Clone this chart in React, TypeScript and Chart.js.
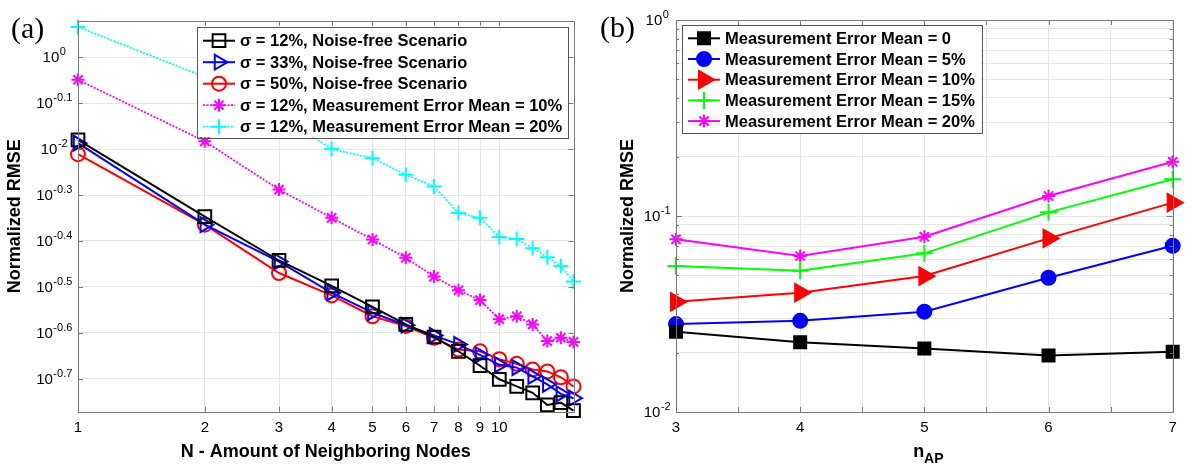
import React, { useEffect, useRef } from "react";
import { Chart, registerables } from "chart.js";
import { drawPoint } from "chart.js/helpers";

Chart.register(...registerables);

// ---------------- Panel (a) data ----------------
const neighborCounts = [1, 2, 3, 4, 5, 6, 7, 8, 9, 10, 11, 12, 13, 14, 15];
const sigma12NoiseFree = [0.661, 0.45, 0.361, 0.318, 0.286, 0.262, 0.246, 0.229, 0.213, 0.199, 0.192, 0.186, 0.175, 0.177, 0.17];
const sigma33NoiseFree = [0.65, 0.432, 0.359, 0.307, 0.278, 0.261, 0.248, 0.237, 0.225, 0.214, 0.211, 0.202, 0.194, 0.185, 0.181];
const sigma50NoiseFree = [0.615, 0.432, 0.339, 0.303, 0.273, 0.26, 0.245, 0.231, 0.229, 0.22, 0.215, 0.209, 0.207, 0.201, 0.192];
const sigma12Mean10 = [0.893, 0.656, 0.515, 0.447, 0.401, 0.366, 0.333, 0.311, 0.296, 0.269, 0.273, 0.262, 0.241, 0.245, 0.24];
const sigma12Mean20 = [1.164, 0.906, 0.749, 0.631, 0.603, 0.555, 0.523, 0.458, 0.447, 0.406, 0.402, 0.384, 0.367, 0.351, 0.325];
const legendA = [
  "σ = 12%, Noise-free Scenario",
  "σ = 33%, Noise-free Scenario",
  "σ = 50%, Noise-free Scenario",
  "σ = 12%, Measurement Error Mean = 10%",
  "σ = 12%, Measurement Error Mean = 20%",
];
const xTicksA = [1, 2, 3, 4, 5, 6, 7, 8, 9, 10];
const yTickExponentsA = [0, -0.1, -0.2, -0.3, -0.4, -0.5, -0.6, -0.7];
const yTickLabelsA = ["0", "-0.1", "-2", "-0.3", "-0.4", "-0.5", "-0.6", "-0.7"];

// ---------------- Panel (b) data ----------------
const apCounts = [3, 4, 5, 6, 7];
const errorMean0 = [0.0257, 0.0227, 0.0211, 0.0194, 0.0203];
const errorMean5 = [0.0281, 0.0292, 0.0325, 0.0484, 0.0705];
const errorMean10 = [0.0365, 0.0406, 0.0494, 0.0769, 0.117];
const errorMean15 = [0.0556, 0.0526, 0.0645, 0.1044, 0.154];
const errorMean20 = [0.076, 0.0625, 0.0784, 0.1265, 0.189];
const legendB = [
  "Measurement Error Mean = 0",
  "Measurement Error Mean = 5%",
  "Measurement Error Mean = 10%",
  "Measurement Error Mean = 15%",
  "Measurement Error Mean = 20%",
];
const xTicksB = [3, 3.5, 4, 4.5, 5, 5.5, 6, 6.5, 7];
const xTickLabelsB = [3, 4, 5, 6, 7];
const yTicksB = [0.01, 0.02, 0.03, 0.04, 0.05, 0.06, 0.07, 0.08, 0.09, 0.1, 0.2, 0.3, 0.4, 0.5, 0.6, 0.7, 0.8, 0.9, 1];
const yMajorB = [0.01, 0.1, 1];
const yLabelExpB = ["-2", "-1", "0"];

// ---------------- styling ----------------
const FONT = "'Liberation Sans', Arial, Helvetica, sans-serif";
const AXIS = "#7a7a7a";
const GRID = "#e6e6e6";
const W = 596;
const H = 465;

function drawPow(ctx: CanvasRenderingContext2D, cx: number, cy: number, exp: string) {
  ctx.font = `15px ${FONT}`;
  const wb = ctx.measureText("10").width;
  ctx.font = `11px ${FONT}`;
  const we = ctx.measureText(exp).width;
  const x0 = cx - (wb + we) / 2;
  ctx.textAlign = "left";
  ctx.textBaseline = "middle";
  ctx.fillStyle = "#000";
  ctx.font = `15px ${FONT}`;
  ctx.fillText("10", x0, cy + 1);
  ctx.font = `11px ${FONT}`;
  ctx.fillText(exp, x0 + wb + 0.5, cy - 5);
}

function drawFrame(chart: any, xVals: number[], xLen: (v: number) => number, yVals: number[], yLen: (v: number) => number) {
  const ctx: CanvasRenderingContext2D = chart.ctx;
  const a = chart.chartArea;
  const xs = chart.scales.x;
  const ys = chart.scales.y;
  ctx.save();
  ctx.strokeStyle = AXIS;
  ctx.lineWidth = 1;
  ctx.setLineDash([]);
  ctx.beginPath();
  xVals.forEach((v) => {
    const px = Math.round(xs.getPixelForValue(v)) + 0.5;
    const l = xLen(v);
    ctx.moveTo(px, a.bottom);
    ctx.lineTo(px, a.bottom - l);
    ctx.moveTo(px, a.top);
    ctx.lineTo(px, a.top + l);
  });
  yVals.forEach((v) => {
    const py = Math.round(ys.getPixelForValue(v)) + 0.5;
    const l = yLen(v);
    ctx.moveTo(a.left, py);
    ctx.lineTo(a.left + l, py);
    ctx.moveTo(a.right, py);
    ctx.lineTo(a.right - l, py);
  });
  ctx.stroke();
  ctx.strokeRect(Math.round(a.left) + 0.5, Math.round(a.top) + 0.5, Math.round(a.right - a.left), Math.round(a.bottom - a.top));
  ctx.restore();
}

type LegendBox = { x: number; y: number; w: number; h: number; row0: number; step: number; lx0: number; lx1: number; tx: number };

function drawLegend(chart: any, L: LegendBox) {
  const ctx: CanvasRenderingContext2D = chart.ctx;
  ctx.save();
  ctx.fillStyle = "#fff";
  ctx.fillRect(L.x, L.y, L.w, L.h);
  ctx.strokeStyle = "#555";
  ctx.lineWidth = 1;
  ctx.strokeRect(Math.round(L.x) + 0.5, Math.round(L.y) + 0.5, Math.round(L.w), Math.round(L.h));
  chart.data.datasets.forEach((ds: any, i: number) => {
    const y = L.row0 + i * L.step;
    ctx.setLineDash(ds.borderDash || []);
    ctx.strokeStyle = ds.borderColor;
    ctx.lineWidth = ds.borderWidth;
    ctx.beginPath();
    ctx.moveTo(L.lx0, y);
    ctx.lineTo(L.lx1, y);
    ctx.stroke();
    ctx.setLineDash([]);
    ctx.fillStyle = ds.pointBackgroundColor;
    ctx.strokeStyle = ds.pointBorderColor;
    ctx.lineWidth = ds.pointBorderWidth;
    drawPoint(
      ctx,
      { pointStyle: ds.pointStyle, rotation: ds.pointRotation || 0, radius: ds.pointRadius, borderWidth: ds.pointBorderWidth } as any,
      (L.lx0 + L.lx1) / 2,
      y
    );
    ctx.fillStyle = "#000";
    ctx.font = `bold 16.5px ${FONT}`;
    ctx.textAlign = "left";
    ctx.textBaseline = "middle";
    ctx.fillText(ds.label, L.tx, y + 1);
  });
  ctx.restore();
}

function mkSet(label: string, data: number[], xs: number[], color: string, style: string, radius: number, opts: any = {}) {
  return {
    label,
    data: xs.map((x, i) => ({ x, y: data[i] })),
    borderColor: color,
    backgroundColor: color,
    borderWidth: 2,
    pointStyle: style,
    pointRadius: radius,
    pointBorderColor: color,
    pointBackgroundColor: "rgba(0,0,0,0)",
    pointBorderWidth: 2,
    pointRotation: 0,
    clip: false,
    tension: 0,
    ...opts,
  };
}

function configA(): any {
  const datasets = [
    mkSet(legendA[0], sigma12NoiseFree, neighborCounts, "#000000", "rect", 9),
    mkSet(legendA[1], sigma33NoiseFree, neighborCounts, "#0000ff", "triangle", 8.5, { pointRotation: 90 }),
    mkSet(legendA[2], sigma50NoiseFree, neighborCounts, "#ff0000", "circle", 7),
    mkSet(legendA[3], sigma12Mean10, neighborCounts, "#ff00ff", "star", 6.5, { borderDash: [2, 1.5], borderWidth: 1.8 }),
    mkSet(legendA[4], sigma12Mean20, neighborCounts, "#00ffff", "cross", 7.5, { borderDash: [2, 1.5], borderWidth: 1.8 }),
  ];
  const yValsA = yTickExponentsA.map((e) => Math.pow(10, e));
  const decor = {
    id: "decorA",
    afterDraw(chart: any) {
      const ctx: CanvasRenderingContext2D = chart.ctx;
      drawFrame(chart, xTicksA, () => 5, yValsA, () => 5);
      const xs = chart.scales.x;
      const ys = chart.scales.y;
      ctx.save();
      yValsA.forEach((v, i) => drawPow(ctx, 54, ys.getPixelForValue(v), yTickLabelsA[i]));
      ctx.font = `15px ${FONT}`;
      ctx.fillStyle = "#000";
      ctx.textAlign = "center";
      ctx.textBaseline = "middle";
      xTicksA.forEach((v) => ctx.fillText(String(v), xs.getPixelForValue(v), 428));
      ctx.font = `bold 18px ${FONT}`;
      ctx.fillText("N - Amount of Neighboring Nodes", (chart.chartArea.left + chart.chartArea.right) / 2, 452);
      ctx.translate(15, (chart.chartArea.top + chart.chartArea.bottom) / 2);
      ctx.rotate(-Math.PI / 2);
      ctx.fillText("Normalized RMSE", 0, 0);
      ctx.restore();
      ctx.save();
      ctx.font = `30px 'Liberation Serif', 'Times New Roman', serif`;
      ctx.fillStyle = "#000";
      ctx.textAlign = "left";
      ctx.textBaseline = "alphabetic";
      ctx.fillText("(a)", 11, 38);
      ctx.restore();
      drawLegend(chart, { x: 196.5, y: 26.5, w: 370.5, h: 110.5, row0: 40.7, step: 21.5, lx0: 203, lx1: 235, tx: 240 });
    },
  };
  return {
    type: "line",
    data: { datasets },
    plugins: [decor],
    options: {
      responsive: false,
      animation: false,
      events: [],
      layout: { padding: { left: 0, right: W - 573.5, top: 21, bottom: 0 } },
      plugins: { legend: { display: false }, tooltip: { enabled: false } },
      scales: {
        x: {
          type: "logarithmic",
          min: 1,
          max: 15,
          afterBuildTicks: (s: any) => {
            s.ticks = xTicksA.map((v) => ({ value: v }));
          },
          afterFit: (s: any) => {
            s.height = H - 411.7;
          },
          ticks: { display: false },
          grid: { color: GRID, drawTicks: false, lineWidth: 1 },
          border: { display: false },
        },
        y: {
          type: "logarithmic",
          min: Math.pow(10, -0.7717),
          max: Math.pow(10, 0.0789),
          afterBuildTicks: (s: any) => {
            s.ticks = yValsA.map((v) => ({ value: v }));
          },
          afterFit: (s: any) => {
            s.width = 78;
          },
          ticks: { display: false },
          grid: { color: GRID, drawTicks: false, lineWidth: 1 },
          border: { display: false },
        },
      },
    },
  };
}

function configB(): any {
  const filled = (c: string) => ({ pointBackgroundColor: c });
  const datasets = [
    mkSet(legendB[0], errorMean0, apCounts, "#000000", "rect", 8.5, filled("#000000")),
    mkSet(legendB[1], errorMean5, apCounts, "#0000ff", "circle", 7, filled("#0000ff")),
    mkSet(legendB[2], errorMean10, apCounts, "#ff0000", "triangle", 10, { ...filled("#ff0000"), pointRotation: 90 }),
    mkSet(legendB[3], errorMean15, apCounts, "#00ff00", "cross", 8.5),
    mkSet(legendB[4], errorMean20, apCounts, "#ff00ff", "star", 6.5),
  ];
  const decor = {
    id: "decorB",
    afterDraw(chart: any) {
      const ctx: CanvasRenderingContext2D = chart.ctx;
      drawFrame(chart, xTicksB, () => 5, yTicksB, (v) => (yMajorB.includes(v) ? 6 : 3));
      const xs = chart.scales.x;
      const ys = chart.scales.y;
      ctx.save();
      yMajorB.forEach((v, i) => drawPow(ctx, 61, ys.getPixelForValue(v), yLabelExpB[i]));
      ctx.font = `15px ${FONT}`;
      ctx.fillStyle = "#000";
      ctx.textAlign = "center";
      ctx.textBaseline = "middle";
      xTickLabelsB.forEach((v) => ctx.fillText(String(v), xs.getPixelForValue(v), 428));
      // x title n_AP
      ctx.font = `bold 18px ${FONT}`;
      const wn = ctx.measureText("n").width;
      ctx.font = `bold 14px ${FONT}`;
      const wap = ctx.measureText("AP").width;
      const cx = (chart.chartArea.left + chart.chartArea.right) / 2 + 4;
      const x0 = cx - (wn + wap) / 2;
      ctx.textAlign = "left";
      ctx.textBaseline = "alphabetic";
      ctx.font = `bold 18px ${FONT}`;
      ctx.fillText("n", x0, 457);
      ctx.font = `bold 14px ${FONT}`;
      ctx.fillText("AP", x0 + wn, 463);
      // y title
      ctx.font = `bold 18px ${FONT}`;
      ctx.textAlign = "center";
      ctx.textBaseline = "middle";
      ctx.translate(32.5, (chart.chartArea.top + chart.chartArea.bottom) / 2);
      ctx.rotate(-Math.PI / 2);
      ctx.fillText("Normalized RMSE", 0, 0);
      ctx.restore();
      ctx.save();
      ctx.font = `30px 'Liberation Serif', 'Times New Roman', serif`;
      ctx.fillStyle = "#000";
      ctx.textAlign = "left";
      ctx.textBaseline = "alphabetic";
      ctx.fillText("(b)", 4, 37);
      ctx.restore();
      drawLegend(chart, { x: 85.5, y: 25, w: 300, h: 108.3, row0: 38.3, step: 20.7, lx0: 92, lx1: 124, tx: 129 });
    },
  };
  return {
    type: "line",
    data: { datasets },
    plugins: [decor],
    options: {
      responsive: false,
      animation: false,
      events: [],
      layout: { padding: { left: 0, right: W - 576.7, top: 20, bottom: 0 } },
      plugins: { legend: { display: false }, tooltip: { enabled: false } },
      scales: {
        x: {
          type: "linear",
          min: 3,
          max: 7,
          afterBuildTicks: (s: any) => {
            s.ticks = xTicksB.map((v) => ({ value: v }));
          },
          afterFit: (s: any) => {
            s.height = H - 412;
          },
          ticks: { display: false },
          grid: { color: GRID, drawTicks: false, lineWidth: 1 },
          border: { display: false },
        },
        y: {
          type: "logarithmic",
          min: 0.01,
          max: 1,
          afterBuildTicks: (s: any) => {
            s.ticks = yTicksB.map((v) => ({ value: v }));
          },
          afterFit: (s: any) => {
            s.width = 80;
          },
          ticks: { display: false },
          grid: { color: GRID, drawTicks: false, lineWidth: 1 },
          border: { display: false },
        },
      },
    },
  };
}

function ChartPanel({ makeConfig, left }: { makeConfig: () => any; left: number }) {
  const ref = useRef<HTMLCanvasElement>(null);
  useEffect(() => {
    const chart = new Chart(ref.current as HTMLCanvasElement, makeConfig());
    return () => chart.destroy();
  }, []);
  return (
    <canvas
      ref={ref}
      width={W}
      height={H}
      style={{ position: "absolute", left, top: 0, width: W, height: H, display: "block" }}
    />
  );
}

export default function App() {
  return (
    <div style={{ position: "absolute", left: 0, top: 0, width: 1192, height: 465, background: "#fff", overflow: "hidden" }}>
      <ChartPanel makeConfig={configA} left={0} />
      <ChartPanel makeConfig={configB} left={596} />
    </div>
  );
}
